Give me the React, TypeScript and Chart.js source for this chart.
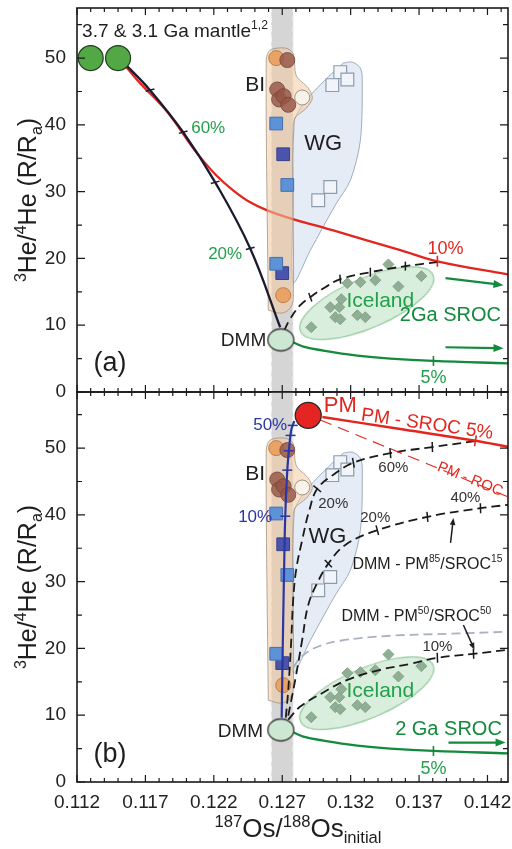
import React, { useEffect, useRef } from 'react';
import { Chart, registerables } from 'chart.js';
Chart.register(...registerables);

type P = [number, number];
type Seg = [string, string];
interface Txt { s: Seg[]; x: number; y: number; size: number; color: string; align?: 'left' | 'center' | 'right'; rot?: number }
interface Arw { x0: number; y0: number; x1: number; y1: number; color: string; w: number; head: number }

const FONT = '"Liberation Sans", Arial, Helvetica, sans-serif';

// ---- axes ----
const X_MIN = 0.112;
const X_MAX = 0.1435;
const xTickLabels = [0.112, 0.117, 0.122, 0.127, 0.132, 0.137, 0.142];
const yTickLabels = [0, 10, 20, 30, 40, 50];
const Y_MAX_A = 57.5;
const Y_MAX_B = 58.4;
const osBandX: [number, number] = [0.1262, 0.1278];

// ---- shared sample data ----
const biBrown: P[] = [[0.12737, 49.7], [0.12663, 45.3], [0.12677, 43.8], [0.1271, 44.3], [0.12744, 43.0]];
const biOrange: P[] = [[0.12656, 50.0], [0.12707, 14.5]];
const biWhite: P[] = [[0.12846, 44.1]];
const blueMed: P[] = [[0.12656, 40.2], [0.12737, 31.0], [0.12656, 19.2]];
const blueDark: P[] = [[0.12707, 35.6], [0.127, 17.8]];
const wgSquares: P[] = [[0.13124, 47.9], [0.13176, 46.8], [0.13066, 45.95], [0.13051, 30.7], [0.12963, 28.7]];
const icelandPts: P[] = [
  [0.12912, 9.7], [0.13051, 12.7], [0.13088, 11.2], [0.13117, 12.7], [0.13132, 13.9], [0.13124, 10.9],
  [0.13176, 16.3], [0.13271, 16.45], [0.1338, 16.75], [0.13476, 19.1], [0.13549, 15.8], [0.13249, 11.5],
  [0.13307, 11.2], [0.13717, 17.35],
];
const icelandCenter: P[] = [[0.13318, 13.3]];
const dmm: P[] = [[0.1269, 7.8]];
const biPoly: P[] = [
  [0.12598, 12.25], [0.12583, 49.7], [0.12612, 51.2], [0.12722, 51.5], [0.1278, 50.7], [0.12802, 47.4],
  [0.1289, 45.5], [0.1292, 44.0], [0.12876, 42.5], [0.12788, 40.7], [0.1278, 13.7], [0.12744, 12.25],
  [0.12685, 11.8], [0.12598, 12.25],
];
const wgPoly: P[] = [
  [0.13146, 49.25], [0.13212, 49.4], [0.13271, 48.5], [0.13285, 46.7], [0.13271, 37.7], [0.13198, 31.7],
  [0.13088, 28.0], [0.12905, 21.2], [0.1278, 16.4], [0.1278, 28.7], [0.1278, 40.0], [0.12832, 42.5],
  [0.12927, 44.9], [0.13073, 47.9], [0.13146, 49.25],
];
const srocCurve: P[] = [[0.1278, 7.45], [0.12854, 6.8], [0.13, 6.2], [0.13249, 5.45], [0.1349, 5.0], [0.13805, 4.65], [0.1435, 4.3]];
const srocTicks: P[] = [[0.13805, 4.65]];

// ---- panel (a) ----
const mantle: P[] = [[0.113, 50], [0.115, 50]];
const blackCurveA: P[] = [[0.115, 50.0], [0.11573, 48.65], [0.11734, 45.2], [0.11976, 38.9], [0.1221, 31.4], [0.12466, 21.5], [0.12685, 9.7]];
const blackTicksA: P[] = [[0.11734, 45.2], [0.11976, 38.9], [0.1221, 31.4], [0.12466, 21.5]];
const redCurveA: P[] = [[0.1152, 49.6], [0.11566, 48.5], [0.11661, 46.25], [0.11859, 41.95], [0.121, 35.17], [0.12341, 30.2], [0.1259, 27.2], [0.13073, 24.2], [0.13563, 21.24], [0.13834, 19.57], [0.1435, 17.6]];
const redTicksA: P[] = [[0.13834, 19.57]];
const dashedA: P[] = [[0.12715, 9.25], [0.12759, 11.0], [0.12832, 13.0], [0.12905, 14.2], [0.13015, 15.7], [0.13124, 16.9], [0.13344, 17.94], [0.136, 18.85], [0.13834, 19.44]];
const dashedTicksA: P[] = [[0.12905, 14.2], [0.13124, 16.9], [0.13344, 17.94], [0.136, 18.85]];

// ---- panel (b) ----
const pm: P[] = [[0.1289, 54.9]];
const pmSroc: P[] = [[0.12993, 54.65], [0.1355, 52.9], [0.14112, 51.1], [0.1435, 50.2]];
const pmSrocTick: P[] = [[0.14112, 51.1]];
const pmRoc: P[] = [[0.12978, 54.2], [0.1435, 42.7]];
const blueCurveB: P[] = [[0.12788, 54.04], [0.12766, 52.7], [0.12751, 50.15], [0.12737, 46.7], [0.12722, 39.8], [0.12715, 33.3], [0.12707, 24.3], [0.127, 15.3], [0.12696, 9.64]];
const blueTicksB: P[] = [[0.12777, 53.4], [0.12761, 51.9], [0.12748, 49.6], [0.12737, 46.7], [0.12722, 39.8]];
const mixLine1: P[] = [[0.12726, 9.64], [0.12744, 13.8], [0.12766, 21.3], [0.1278, 27.3], [0.12802, 31.8], [0.12846, 36.25], [0.12898, 40.7], [0.12956, 43.9], [0.13073, 46.0], [0.1322, 47.8], [0.1349, 49.25], [0.13797, 50.15], [0.14112, 51.05]];
const mixTicks1: P[] = [[0.12956, 43.9], [0.1322, 47.8], [0.1349, 49.25], [0.13797, 50.15]];
const mixLine2: P[] = [[0.12744, 9.94], [0.12795, 15.3], [0.12846, 21.3], [0.1289, 26.5], [0.12956, 29.8], [0.13037, 32.7], [0.13161, 35.5], [0.13395, 37.7], [0.13761, 39.7], [0.14149, 41.0], [0.1435, 41.5]];
const mixTicks2: P[] = [[0.13037, 32.7], [0.13395, 37.7], [0.13761, 39.7], [0.14149, 41.0]];
const mixLine3: P[] = [[0.12744, 9.34], [0.12832, 11.3], [0.13, 13.4], [0.13176, 15.3], [0.13417, 16.8], [0.13637, 17.7], [0.13834, 18.6], [0.14098, 19.2], [0.1435, 19.8]];
const mixTicks3: P[] = [[0.13834, 18.6], [0.14098, 19.2]];
const grayDashB: P[] = [[0.1278, 17.1], [0.12832, 18.6], [0.12941, 20.1], [0.13124, 21.15], [0.1349, 21.9], [0.13929, 22.2], [0.1435, 22.5]];

// ---- colors ----
const GREEN_T = '#22a04a';
const GREEN_L = '#148a3c';
const RED = '#e2261f';
const BLUE = '#2b36a3';
const INK = '#1e1e1e';

// ---- labels ----
const textsA: Txt[] = [
  { s: [['3.7 & 3.1 Ga mantle', ''], ['1,2', 'sup']], x: 0.11237, y: 54.2, size: 19, color: INK, align: 'left' },
  { s: [['BI', '']], x: 0.12502, y: 46.25, size: 21, color: INK },
  { s: [['WG', '']], x: 0.13, y: 37.4, size: 22, color: INK },
  { s: [['60%', '']], x: 0.12159, y: 39.7, size: 17, color: GREEN_T },
  { s: [['20%', '']], x: 0.12283, y: 20.8, size: 17, color: GREEN_T },
  { s: [['10%', '']], x: 0.13893, y: 21.65, size: 18, color: RED },
  { s: [['DMM', '']], x: 0.12583, y: 7.85, size: 19, color: INK, align: 'right' },
  { s: [['Iceland', '']], x: 0.13417, y: 13.85, size: 21, color: GREEN_T },
  { s: [['2Ga SROC', '']], x: 0.13929, y: 11.75, size: 20, color: GREEN_L },
  { s: [['5%', '']], x: 0.13805, y: 2.36, size: 18, color: GREEN_T },
  { s: [['(a)', '']], x: 0.11441, y: 4.6, size: 27, color: INK },
];
const textsB: Txt[] = [
  { s: [['PM', '']], x: 0.13124, y: 56.6, size: 22, color: RED },
  { s: [['PM - SROC 5%', '']], x: 0.13761, y: 53.8, size: 19, color: RED, rot: 8 },
  { s: [['PM - ROC', '']], x: 0.14076, y: 45.5, size: 15, color: RED, rot: 22 },
  { s: [['50%', '']], x: 0.12612, y: 53.7, size: 17, color: BLUE },
  { s: [['10%', '']], x: 0.12502, y: 39.8, size: 17, color: BLUE },
  { s: [['BI', '']], x: 0.12502, y: 46.3, size: 21, color: INK },
  { s: [['WG', '']], x: 0.1303, y: 37.0, size: 22, color: INK },
  { s: [['20%', '']], x: 0.13073, y: 41.8, size: 15, color: '#333' },
  { s: [['60%', '']], x: 0.13512, y: 47.3, size: 15, color: '#333' },
  { s: [['20%', '']], x: 0.1338, y: 39.7, size: 15, color: '#333' },
  { s: [['40%', '']], x: 0.14039, y: 42.7, size: 15, color: '#333' },
  { s: [['10%', '']], x: 0.13834, y: 20.4, size: 15, color: '#333' },
  { s: [['DMM - PM', ''], ['85', 'sup'], ['/SROC', ''], ['15', 'sup']], x: 0.13761, y: 32.8, size: 16, color: INK },
  { s: [['DMM - PM', ''], ['50', 'sup'], ['/SROC', ''], ['50', 'sup']], x: 0.1368, y: 25.0, size: 16, color: INK },
  { s: [['Iceland', '']], x: 0.13417, y: 13.8, size: 21, color: GREEN_T },
  { s: [['2 Ga SROC', '']], x: 0.13915, y: 8.15, size: 20, color: GREEN_L },
  { s: [['5%', '']], x: 0.13805, y: 2.2, size: 18, color: GREEN_T },
  { s: [['DMM', '']], x: 0.1256, y: 7.7, size: 19, color: INK, align: 'right' },
  { s: [['(b)', '']], x: 0.11441, y: 4.4, size: 27, color: INK },
];
const arrowsA: Arw[] = [
  { x0: 0.13893, y0: 17.04, x1: 0.14317, y1: 16.0, color: GREEN_L, w: 2.2, head: 10 },
  { x0: 0.13893, y0: 6.7, x1: 0.14317, y1: 6.55, color: GREEN_L, w: 2.2, head: 10 },
];
const arrowsB: Arw[] = [
  { x0: 0.1393, y0: 35.8, x1: 0.13951, y1: 39.55, color: INK, w: 1.5, head: 7 },
  { x0: 0.14024, y0: 23.5, x1: 0.14105, y1: 19.8, color: INK, w: 1.5, head: 7 },
  { x0: 0.13915, y0: 5.9, x1: 0.14332, y1: 5.9, color: GREEN_L, w: 2.2, head: 10 },
];
const yTitle: Seg[] = [['3', 'sup'], ['He/', ''], ['4', 'sup'], ['He (R/R', ''], ['a', 'sub'], [')', '']];
const xTitle: Seg[] = [['187', 'sup'], ['Os/', ''], ['188', 'sup'], ['Os', ''], ['initial', 'sub']];

// ---- helpers ----
const pts = (a: P[]) => a.map(([x, y]) => ({ x, y }));
function curve(a: P[], color: string, width: number, order: number, dash: number[] = [], tension = 0.4) {
  return { type: 'line', data: pts(a), borderColor: color, borderWidth: width, borderDash: dash, pointRadius: 0, fill: false, tension, order };
}
function poly(a: P[], fillColor: string, lineColor: string, order: number, tension = 0.3) {
  return { type: 'line', data: pts(a), backgroundColor: fillColor, borderColor: lineColor, borderWidth: 1, pointRadius: 0, fill: 'shape', tension, order };
}
function marks(a: P[], style: any, radius: number, bg: string, border: string, bw: number, order: number, rot: any = 0) {
  return {
    type: 'scatter', data: pts(a), pointStyle: style, pointRadius: radius, pointBackgroundColor: bg, backgroundColor: bg,
    pointBorderColor: border, borderColor: border, pointBorderWidth: bw, borderWidth: bw, pointRotation: rot, order, showLine: false,
  };
}
function ellipseImg(rx: number, ry: number, fill: string, stroke: string, lw: number) {
  const c = document.createElement('canvas');
  c.width = Math.ceil(2 * rx + 2 * lw + 2);
  c.height = Math.ceil(2 * ry + 2 * lw + 2);
  const g = c.getContext('2d')!;
  g.beginPath();
  g.ellipse(c.width / 2, c.height / 2, rx, ry, 0, 0, Math.PI * 2);
  g.fillStyle = fill;
  g.fill();
  g.lineWidth = lw;
  g.strokeStyle = stroke;
  g.stroke();
  return c;
}
function drawRich(ctx: CanvasRenderingContext2D, segs: Seg[], x: number, y: number, size: number, color: string, align = 'center', rot = 0) {
  ctx.save();
  ctx.translate(x, y);
  if (rot) ctx.rotate((rot * Math.PI) / 180);
  ctx.fillStyle = color;
  ctx.textBaseline = 'alphabetic';
  ctx.textAlign = 'left';
  const parts = segs.map(([t, k]) => {
    const fs = k ? size * 0.64 : size;
    ctx.font = `${fs}px ${FONT}`;
    return { t, k, fs, w: ctx.measureText(t).width };
  });
  const total = parts.reduce((a, p) => a + p.w, 0);
  let cx = align === 'left' ? 0 : align === 'right' ? -total : -total / 2;
  const base = size * 0.36;
  for (const p of parts) {
    ctx.font = `${p.fs}px ${FONT}`;
    const dy = p.k === 'sup' ? -size * 0.4 : p.k === 'sub' ? size * 0.22 : 0;
    ctx.fillText(p.t, cx, base + dy);
    cx += p.w;
  }
  ctx.restore();
}
function drawArrow(ctx: CanvasRenderingContext2D, a: Arw, xs: any, ys: any) {
  const x0 = xs.getPixelForValue(a.x0), y0 = ys.getPixelForValue(a.y0);
  const x1 = xs.getPixelForValue(a.x1), y1 = ys.getPixelForValue(a.y1);
  const ang = Math.atan2(y1 - y0, x1 - x0);
  ctx.save();
  ctx.strokeStyle = a.color;
  ctx.fillStyle = a.color;
  ctx.lineWidth = a.w;
  ctx.beginPath();
  ctx.moveTo(x0, y0);
  ctx.lineTo(x1 - Math.cos(ang) * a.head * 0.8, y1 - Math.sin(ang) * a.head * 0.8);
  ctx.stroke();
  ctx.beginPath();
  ctx.moveTo(x1, y1);
  ctx.lineTo(x1 - a.head * Math.cos(ang) + a.head * 0.4 * Math.sin(ang), y1 - a.head * Math.sin(ang) - a.head * 0.4 * Math.cos(ang));
  ctx.lineTo(x1 - a.head * Math.cos(ang) - a.head * 0.4 * Math.sin(ang), y1 - a.head * Math.sin(ang) + a.head * 0.4 * Math.cos(ang));
  ctx.closePath();
  ctx.fill();
  ctx.restore();
}

function buildConfig(panel: 'a' | 'b', imgs: any) {
  const isA = panel === 'a';
  const ymax = isA ? Y_MAX_A : Y_MAX_B;
  const [bx0, bx1] = osBandX;
  const ds: any[] = [];
  ds.push(poly([[bx0, 0], [bx0, ymax], [bx1, ymax], [bx1, 0], [bx0, 0]], '#d5d5d5', 'rgba(0,0,0,0)', 100, 0));
  ds.push(curve([[bx0, 0], [bx0, ymax]], '#f4f4f4', 1.3, 99, [6, 4], 0));
  ds.push(curve([[bx1, 0], [bx1, ymax]], '#f4f4f4', 1.3, 99, [6, 4], 0));
  ds.push(poly(wgPoly, 'rgba(222,231,242,0.78)', '#9eadbf', 95));
  ds.push(poly(biPoly, 'rgba(243,203,160,0.55)', 'rgba(150,138,125,0.7)', 90));
  ds.push(marks(icelandCenter, imgs.iceland, 10, '#fff', '#fff', 0, 85, -23));
  ds.push(marks(icelandPts, 'rectRot', 5.5, '#8fae93', '#86a58a', 1, 55));
  ds.push(marks(biBrown, 'circle', 7.5, 'rgba(150,85,72,0.82)', 'rgba(115,70,60,0.8)', 1, 56));
  ds.push(marks(biOrange, 'circle', 7.5, '#eba265', '#b98050', 1, 56));
  ds.push(marks(biWhite, 'circle', 7.5, '#f8f3ea', '#a09080', 1, 56));
  ds.push(marks(blueMed, 'rect', 9, '#5d92d6', '#476fae', 1, 56));
  ds.push(marks(blueDark, 'rect', 9, '#4a54ad', '#35408a', 1, 56));
  ds.push(marks(wgSquares, 'rect', 9, '#f1f5fa', '#8d9cad', 1.2, 56));
  ds.push(curve(srocCurve, GREEN_L, 2.3, 50));
  ds.push(marks(srocTicks, 'line', 5, GREEN_L, GREEN_L, 1.6, 45, 90));
  if (isA) {
    ds.push(curve(redCurveA, RED, 2.3, 92));
    ds.push(marks(redTicksA, 'line', 5.5, RED, RED, 1.6, 45, 90));
    ds.push(curve(blackCurveA, '#1c1a2e', 2.3, 50));
    ds.push(marks(blackTicksA, 'line', 4.5, '#1c1a2e', '#1c1a2e', 1.5, 45, -15));
    ds.push(curve(dashedA, '#1a1a1a', 1.8, 50, [9, 5]));
    ds.push(marks(dashedTicksA, 'line', 4.5, '#1a1a1a', '#1a1a1a', 1.5, 45, [70, 85, 90, 90]));
    ds.push(marks(mantle, 'circle', 12.5, '#52a845', '#203d20', 1.2, 8));
  } else {
    ds.push(curve(grayDashB, '#aab2c2', 1.8, 60, [9, 5]));
    ds.push(curve(pmRoc, RED, 1.1, 50, [12, 7], 0));
    ds.push(curve(pmSroc, RED, 2.4, 50));
    ds.push(marks(pmSrocTick, 'line', 5.5, RED, RED, 1.6, 45, 99));
    ds.push(curve(mixLine1, '#1a1a1a', 1.8, 50, [9, 5]));
    ds.push(marks(mixTicks1, 'line', 5, '#1a1a1a', '#1a1a1a', 1.5, 45, [40, 80, 85, 88]));
    ds.push(curve(mixLine2, '#1a1a1a', 1.8, 50, [9, 5]));
    ds.push(marks(mixTicks2, 'line', 5, '#1a1a1a', '#1a1a1a', 1.5, 45, [45, 75, 85, 88]));
    ds.push(curve(mixLine3, '#1a1a1a', 1.8, 50, [9, 5]));
    ds.push(marks(mixTicks3, 'line', 5, '#1a1a1a', '#1a1a1a', 1.5, 45, 88));
    ds.push(curve(blueCurveB, BLUE, 2.2, 48));
    ds.push(marks(blueTicksB, 'line', 5, BLUE, BLUE, 1.5, 44, 0));
    ds.push(marks(pm, 'circle', 13, '#e52521', '#2a2a2a', 1.3, 8));
  }
  ds.push(marks(dmm, imgs.dmm, 10, '#fff', '#fff', 0, 5));

  const texts = isA ? textsA : textsB;
  const arrows = isA ? arrowsA : arrowsB;

  const overlay = {
    id: 'overlay' + panel,
    afterDatasetsDraw(chart: any) {
      const { ctx, scales } = chart;
      const xs = scales.x, ys = scales.y;
      arrows.forEach((a) => drawArrow(ctx, a, xs, ys));
      texts.forEach((t) =>
        drawRich(ctx, t.s, xs.getPixelForValue(t.x), ys.getPixelForValue(t.y), t.size, t.color, t.align || 'center', t.rot || 0)
      );
    },
    afterDraw(chart: any) {
      const { ctx, chartArea: ca, scales } = chart;
      const xs = scales.x, ys = scales.y;
      ctx.save();
      ctx.strokeStyle = '#1a1a1a';
      ctx.lineWidth = 1.2;
      ctx.beginPath();
      for (let k = 0; k <= 31; k++) {
        const v = X_MIN + k * 0.001;
        if (v > X_MAX) break;
        const px = xs.getPixelForValue(v);
        const L = k % 5 === 0 ? 7 : 4;
        ctx.moveTo(px, ca.bottom);
        ctx.lineTo(px, ca.bottom - L);
        ctx.moveTo(px, ca.top);
        ctx.lineTo(px, ca.top + L);
      }
      for (let v = 0; v <= ymax; v += 5) {
        const py = ys.getPixelForValue(v);
        const L = v % 10 === 0 ? 8 : 5;
        ctx.moveTo(ca.left, py);
        ctx.lineTo(ca.left + L, py);
        ctx.moveTo(ca.right, py);
        ctx.lineTo(ca.right - L, py);
      }
      ctx.stroke();
      ctx.lineWidth = 1.6;
      ctx.strokeRect(ca.left, ca.top, ca.right - ca.left, ca.bottom - ca.top);
      ctx.restore();
      // y title
      ctx.save();
      ctx.translate(27, (ca.top + ca.bottom) / 2);
      ctx.rotate(-Math.PI / 2);
      drawRich(ctx, yTitle, 0, 0, 25, INK, 'center');
      ctx.restore();
      if (!isA) drawRich(ctx, xTitle, 298, ca.bottom + 46, 26, INK, 'center');
    },
  };

  return {
    type: 'scatter',
    data: { datasets: ds },
    plugins: [overlay],
    options: {
      responsive: false,
      animation: false,
      devicePixelRatio: 1,
      events: [],
      layout: { autoPadding: false, padding: isA ? { top: 8, bottom: 20, left: 0, right: 4 } : { top: 2, bottom: 0, left: 0, right: 4 } },
      plugins: { legend: { display: false }, tooltip: { enabled: false } },
      scales: {
        x: {
          type: 'linear',
          min: X_MIN,
          max: X_MAX,
          display: !isA,
          afterBuildTicks: (s: any) => { s.ticks = xTickLabels.map((v) => ({ value: v })); },
          afterFit: (s: any) => { if (!isA) { s.height = 67; } s.paddingLeft = 0; s.paddingRight = 0; },
          ticks: { callback: (v: any) => Number(v).toFixed(3), font: { size: 19, family: FONT }, color: '#222', padding: 9, autoSkip: false, maxRotation: 0 },
          grid: { display: false, drawTicks: false },
          border: { display: false },
        },
        y: {
          type: 'linear',
          min: 0,
          max: ymax,
          afterBuildTicks: (s: any) => { s.ticks = yTickLabels.map((v) => ({ value: v })); },
          afterFit: (s: any) => { s.width = 77; s.paddingTop = 0; s.paddingBottom = 0; },
          ticks: { font: { size: 19, family: FONT }, color: '#222', padding: 11 },
          grid: { display: false, drawTicks: false },
          border: { display: false },
        },
      },
    },
  };
}

export default function App() {
  const refA = useRef<HTMLCanvasElement>(null);
  const refB = useRef<HTMLCanvasElement>(null);
  useEffect(() => {
    const imgs = {
      dmm: ellipseImg(13, 11, '#cde8d2', '#333', 1.3),
      iceland: ellipseImg(72, 25, 'rgba(205,232,210,0.75)', '#95caa0', 1.2),
    };
    const ca = new Chart(refA.current!, buildConfig('a', imgs) as any);
    const cb = new Chart(refB.current!, buildConfig('b', imgs) as any);
    return () => { ca.destroy(); cb.destroy(); };
  }, []);
  return (
    <div style={{ position: 'absolute', left: 0, top: 0, width: 512, height: 849, background: '#fff' }}>
      <canvas ref={refA} width={512} height={412} style={{ position: 'absolute', left: 0, top: 0, width: 512, height: 412 }} />
      <canvas ref={refB} width={512} height={459} style={{ position: 'absolute', left: 0, top: 390, width: 512, height: 459 }} />
    </div>
  );
}
